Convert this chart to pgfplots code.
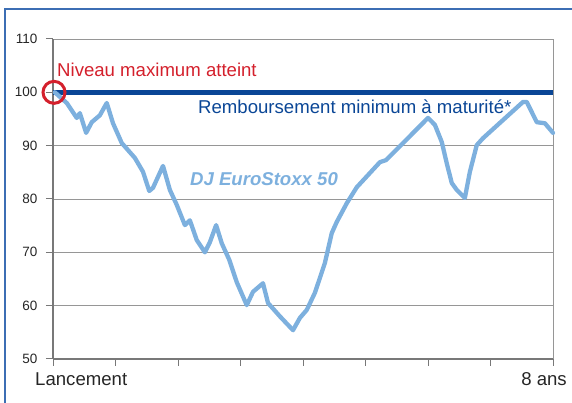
\documentclass[border=0pt]{standalone}
\usepackage{pgfplots}
\pgfplotsset{compat=1.18}
\usepackage{fontspec}
\setmainfont{Liberation Sans}
\definecolor{curve}{RGB}{125,176,222}
\definecolor{navy}{RGB}{10,70,150}
\definecolor{redc}{RGB}{212,32,44}
\definecolor{framec}{RGB}{60,110,180}
\definecolor{axgray}{RGB}{120,120,120}
\definecolor{gridgray}{RGB}{150,150,150}
\newcommand{\bigtxt}{\fontsize{18.6}{22}\selectfont}

\begin{document}
\begin{tikzpicture}[x=1pt,y=1pt]
\clip (0,0) rectangle (572,403);
\draw[framec, line width=1.5pt] (5,-20) rectangle (600,394);
\begin{axis}[
  at={(53pt,44pt)}, anchor=south west,
  scale only axis, width=500pt, height=320pt,
  xmin=0, xmax=8, ymin=50, ymax=110,
  xtick={0,...,8}, xticklabels={},
  ytick={50,60,...,110},
  axis lines=left, axis line style={-, axgray, line width=1.2pt},
  tick align=outside, major tick length=7pt,
  tick style={axgray, line width=1pt},
  ymajorgrids, grid style={gridgray, line width=0.9pt},
  yticklabel style={font=\fontsize{13.5}{16}\selectfont, color=black!85, xshift=-5pt},
  /pgf/number format/assume math mode=true,
  clip=false,
]
\draw[gridgray, line width=0.9pt] (rel axis cs:1,0) -- (rel axis cs:1,1);

\addplot[navy, line width=5.5pt] coordinates {(0,100) (8,100)};

\addplot[curve, line width=4.3pt, line join=round, line cap=round] coordinates {
(0.03,100)(0.22,98.0)(0.38,95.2)(0.43,96.1)(0.53,92.4)(0.62,94.4)(0.75,95.7)(0.86,98.0)
(0.96,94.2)(1.10,90.5)(1.31,87.7)(1.44,85.1)(1.54,81.5)(1.60,82.1)(1.76,86.2)(1.87,81.7)
(1.98,78.9)(2.11,75.1)(2.19,76.0)(2.30,72.3)(2.43,70.0)(2.51,71.9)(2.61,75.1)(2.70,71.7)
(2.82,68.6)(2.94,64.4)(3.10,60.1)(3.20,62.6)(3.36,64.2)(3.44,60.5)(3.63,58.0)(3.84,55.4)
(3.95,57.7)(4.06,59.2)(4.19,62.4)(4.35,68.0)(4.46,73.6)(4.54,75.7)(4.70,79.2)(4.86,82.2)
(5.23,86.9)(5.33,87.3)(6.00,95.2)(6.11,93.9)(6.22,90.7)(6.30,86.7)(6.38,83.0)(6.46,81.7)
(6.59,80.2)(6.67,85.1)(6.78,90.1)(6.88,91.4)(7.52,98.2)(7.58,98.2)(7.74,94.4)(7.87,94.2)
(8.00,92.4)
};

\addplot[only marks, mark=o, mark size=11pt,
  mark options={draw=redc, line width=3pt, solid}] coordinates {(0.016,100)};

\node[anchor=base west, inner sep=0, text=redc, font=\bigtxt] at (axis cs:0.064,102.9) {Niveau maximum atteint};
\node[anchor=base west, inner sep=0, text=navy, font=\bigtxt] at (axis cs:2.32,96.1) {Remboursement minimum à maturité*};
\node[anchor=base west, inner sep=0, text=curve, font=\bigtxt\bfseries\itshape] at (axis cs:2.19,82.6) {DJ EuroStoxx 50};
\node[anchor=base west, inner sep=0, text=black!85, font=\bigtxt] at (axis cs:-0.288,45.1) {Lancement};
\node[anchor=base east, inner sep=0, text=black!85, font=\bigtxt] at (axis cs:8.224,45.1) {8 ans};
\end{axis}
\end{tikzpicture}
\end{document}
